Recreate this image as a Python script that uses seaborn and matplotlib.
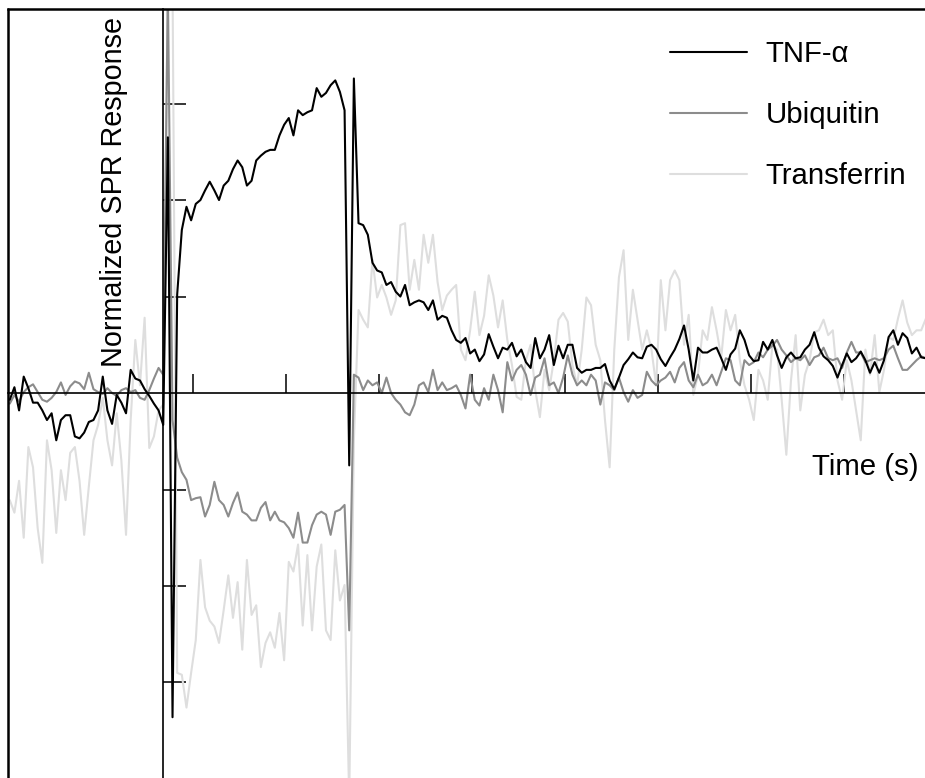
import numpy as np
import pandas as pd
import matplotlib
matplotlib.use("Agg")
import matplotlib.pyplot as plt
import seaborn as sns
from matplotlib.lines import Line2D

# ---------------- data ----------------
time_s = np.arange(-197, 789, 5)  # sampling grid (s), 198 samples

tnf = [
    -7, 6, -18, 17, 5, -10, -10, -18, -28, -21,
    -49, -28, -23, -23, -45, -47, -41, -30, -28, -18,
    17, -18, -32, -2, -10, -21, 24, 15, 13, 4,
    -3, -11, -18, -33, 265, -336, 102, 169, 193, 179,
    196, 200, 210, 219, 210, 200, 215, 220, 232, 241,
    234, 215, 220, 241, 246, 250, 252, 252, 267, 278,
    285, 267, 293, 288, 291, 293, 316, 307, 311, 319,
    324, 312, 293, -75, 326, 176, 174, 164, 135, 127,
    125, 112, 115, 105, 100, 112, 91, 94, 96, 94,
    86, 96, 76, 80, 78, 65, 55, 52, 57, 41,
    45, 33, 40, 61, 48, 36, 47, 45, 52, 38,
    45, 32, 26, 57, 36, 45, 60, 29, 49, 36,
    50, 50, 26, 21, 24, 24, 26, 26, 30, 13,
    4, 16, 29, 35, 42, 37, 36, 48, 50, 45,
    35, 28, 37, 45, 56, 70, 45, 13, 47, 42,
    42, 45, 47, 36, 24, 40, 46, 65, 55, 39,
    33, 34, 53, 45, 55, 39, 26, 37, 42, 36,
    37, 45, 50, 63, 47, 38, 34, 28, 16, 29,
    41, 32, 36, 43, 34, 21, 32, 21, 34, 58,
    65, 50, 62, 57, 41, 47, 37, 36,
]

ubiquitin = [
    -11, -2, -9, 1, 6, 9, 1, -7, -9, -5,
    1, 11, -2, 7, 12, 10, 4, 21, 4, 1,
    -1, 5, 0, -3, 3, 5, 1, 3, -5, -7,
    3, 15, 26, 19, 417, -28, -67, -82, -90, -111,
    -109, -108, -128, -116, -92, -111, -116, -128, -114, -103,
    -123, -126, -132, -132, -119, -113, -132, -123, -132, -134,
    -140, -150, -124, -155, -155, -137, -126, -123, -126, -147,
    -123, -121, -116, -246, 19, 16, 3, 13, 8, 11,
    0, 16, 0, -7, -12, -20, -23, -12, 8, 11,
    1, 24, 3, 11, 3, 5, 8, -2, -16, 19,
    -7, -13, 5, -7, 19, 3, -20, 32, 13, 24,
    29, 19, -2, 16, 19, 36, 8, 11, 0, 16,
    39, 19, 8, 13, 8, 19, 13, -12, 11, 8,
    3, 16, 1, -9, 3, -5, -2, 22, 13, 8,
    13, 16, 22, 11, 26, 32, 13, 6, 19, 8,
    11, 19, 8, 22, 36, 34, 13, 8, 34, 29,
    32, 42, 37, 45, 49, 55, 45, 39, 32, 36,
    34, 39, 29, 37, 39, 47, 36, 34, 36, 26,
    42, 53, 42, 42, 32, 34, 36, 34, 36, 45,
    49, 36, 24, 24, 29, 34, 38, 36,
]

transferrin = [
    -111, -124, -91, -150, -56, -77, -140, -176, -49, -80,
    -145, -80, -111, -62, -56, -91, -147, -97, -49, -33,
    -5, -49, -75, -21, -70, -147, -28, 55, 8, 78,
    -57, -45, -18, -12, 428, 428, -290, -292, -326, -290,
    -256, -173, -222, -236, -242, -259, -225, -189, -233, -196,
    -266, -173, -230, -220, -284, -259, -248, -264, -228, -277,
    -175, -185, -157, -241, -168, -246, -180, -157, -246, -256,
    -163, -215, -199, -422, -49, 86, 76, 68, 138, 99,
    112, 99, 81, 96, 174, 176, 107, 138, 107, 164,
    135, 164, 115, 86, 101, 107, 112, 45, 34, 65,
    105, 60, 80, 122, 101, 68, 96, 55, 29, -4,
    -7, 34, 50, 3, -25, 24, 3, 34, 76, 83,
    74, 29, 8, 45, 99, 91, 50, 34, -28, -77,
    45, 120, 148, 55, 107, 76, 45, 65, 45, 8,
    117, 65, 117, 127, 117, 50, 81, -2, 19, 65,
    55, 89, 65, 37, 86, 65, 81, 34, 8, -7,
    -28, 24, 13, -7, 50, 45, -7, -64, 13, 60,
    -18, 19, 34, 63, 65, 76, 60, 65, 13, -7,
    34, 13, -18, -49, 45, 19, 60, 1, 24, 58,
    55, 77, 96, 73, 60, 65, 65, 77,
]

series_names = ["TNF-α", "Ubiquitin", "Transferrin"]
series_colors = ["#000000", "#8c8c8c", "#dedede"]
x_ticks = [0, 100, 200, 300, 400, 500, 600, 700]
y_ticks = [-300, -200, -100, 100, 200, 300]
x_label = "Time (s)"
y_label = "Normalized SPR Response"

# ---------------- style ----------------
sns.set_style("white")
plt.rcParams["font.family"] = ["Liberation Sans", "DejaVu Sans"]
plt.rcParams["text.color"] = "black"

df = pd.concat(
    [
        pd.DataFrame({"Time": time_s, "Response": vals, "Protein": name})
        for name, vals in zip(series_names, [tnf, ubiquitin, transferrin])
    ],
    ignore_index=True,
)

W, H = 925, 778
fig = plt.figure(figsize=(W / 100, H / 100), dpi=100)
ax = fig.add_axes([8 / W, 0, (W - 8) / W, (H - 9) / H])

sns.lineplot(
    data=df, x="Time", y="Response", hue="Protein",
    hue_order=series_names[::-1],
    palette=dict(zip(series_names, series_colors)),
    estimator=None, sort=False, linewidth=1.5, legend=False, ax=ax,
)

ax.set_xlim(-198.9, 787.1)
ax.set_ylim(-399, 398)
ax.set_xlabel("")
ax.set_ylabel("")

# centred axes
ax.spines["left"].set_position(("data", -32.3))
ax.spines["bottom"].set_position(("data", 0))
for s in ["left", "bottom"]:
    ax.spines[s].set_color("black")
    ax.spines[s].set_linewidth(1.2)
ax.spines["top"].set_color("black")
ax.spines["top"].set_linewidth(1.8)
ax.spines["right"].set_visible(False)
# left border of the frame
ax.plot([0, 0], [0, 1], transform=ax.transAxes, color="black", lw=1.8, clip_on=False)

ax.set_xticks(x_ticks)
ax.set_yticks(y_ticks)
ax.tick_params(axis="x", direction="in", length=13.7, width=1.1, color="black",
               bottom=True, labelbottom=False)
ax.tick_params(axis="y", direction="in", length=16.5, width=1.1, color="black",
               left=True, labelleft=False)

fs = 21.2
fig.text(122 / W, 1 - 367 / H, y_label, rotation=90, rotation_mode="anchor",
         ha="left", va="baseline", fontsize=20.7, color="black")
fig.text(812 / W, 1 - 475 / H, x_label, ha="left", va="baseline", fontsize=fs,
         color="black")

handles = [Line2D([], [], color=c, lw=1.5) for c in series_colors]
leg = fig.legend(handles, series_names, loc="upper left",
                 bbox_to_anchor=(670 / W, 1 - 40 / H), bbox_transform=fig.transFigure,
                 frameon=False, fontsize=fs, handlelength=2.6, handletextpad=0.65,
                 labelspacing=1.12, borderpad=0, borderaxespad=0)
for t in leg.get_texts():
    t.set_color("black")

fig.savefig("out.png", dpi=100)
